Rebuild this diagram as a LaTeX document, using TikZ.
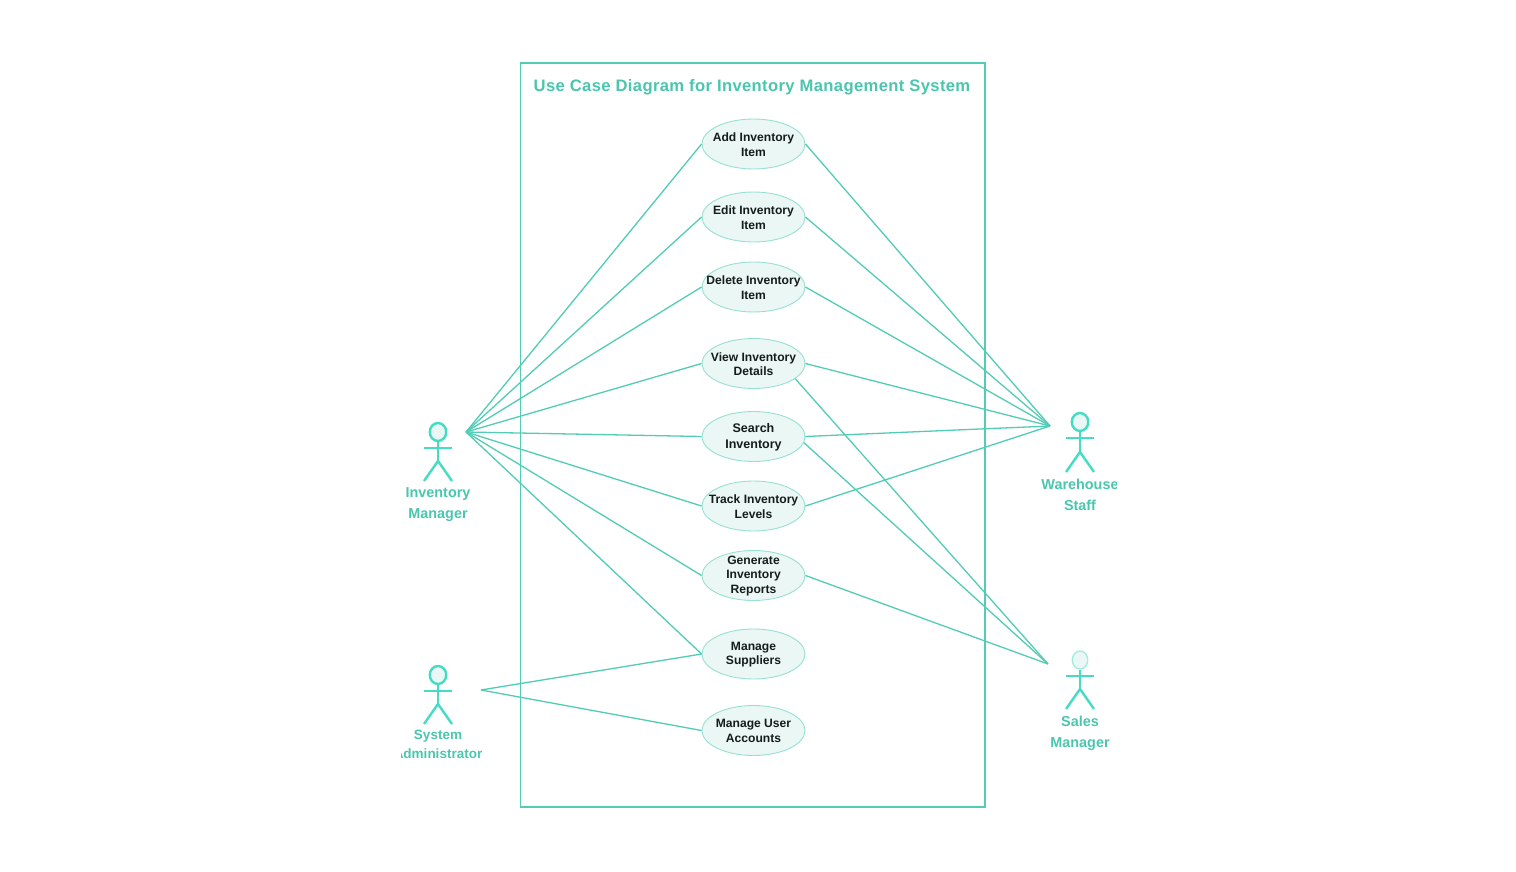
\documentclass[tikz,border=0pt]{standalone}
\usepackage{fontspec}
\setmainfont{Liberation Sans}
\usetikzlibrary{shapes.geometric}
\definecolor{teal1}{HTML}{52CCB4}
\definecolor{teal2}{HTML}{4BC6AE}
\definecolor{limb}{HTML}{45DCC4}
\definecolor{pale}{HTML}{EAF7F5}
\definecolor{ink}{HTML}{151C1C}
\tikzset{
  x=1pt,y=-1pt,
  usecase/.style={ellipse,draw=teal1!60,fill=pale,line width=0.9pt,minimum width=103pt,minimum height=50pt,inner sep=0pt},
  uclabel/.style={align=center,font=\bfseries\fontsize{12.1}{14.5}\selectfont,text=ink,inner sep=0pt},
  wire/.style={draw=teal1,line width=1.3pt},
  frame/.style={draw=teal1,line width=1.1pt},
  limbline/.style={draw=limb,line width=2.4pt},
  headshape/.style={ellipse,draw=limb,fill=pale,line width=2.4pt,inner sep=0pt,minimum width=16.5pt,minimum height=18pt},
  actorname/.style={align=center,font=\bfseries\fontsize{14.4}{21}\selectfont,text=teal2,inner sep=0pt},
  titletext/.style={font=\bfseries\fontsize{16.6}{20}\selectfont,text=teal2,inner sep=0pt},
}
\begin{document}
\begin{tikzpicture}
\useasboundingbox (0,0) rectangle (1516,872);
\fill[white] (0,0) rectangle (1516,872);
\node[frame,minimum width=464.5pt,minimum height=744pt,inner sep=0pt] (sys) at (752.75,435) {};
\node[titletext] (title) at (752,87) {\addfontfeature{LetterSpace=2.2}Use Case Diagram for Inventory Management System};

% actor contact points
\coordinate (im) at (466,432);
\coordinate (sa) at (481,690);
\coordinate (ws) at (1050,426);
\coordinate (sm) at (1048,664);

\node[usecase] (e1) at (753.5,144) {};
\node[usecase] (e2) at (753.5,217) {};
\node[usecase] (e3) at (753.5,287) {};
\node[usecase] (e4) at (753.5,363.5) {};
\node[usecase] (e5) at (753.5,436.5) {};
\node[usecase] (e6) at (753.5,506) {};
\node[usecase] (e7) at (753.5,575.5) {};
\node[usecase] (e8) at (753.5,654) {};
\node[usecase] (e9) at (753.5,730.5) {};

\node[uclabel] (t1) at (753.5,144.5) {Add Inventory\\Item};
\node[uclabel] (t2) at (753.5,217.5) {Edit Inventory\\Item};
\node[uclabel] (t3) at (753.5,287.5) {Delete Inventory\\Item};
\node[uclabel] (t4) at (753.5,364) {View Inventory\\Details};
\node[uclabel,font=\bfseries\fontsize{12.5}{16}\selectfont] (t5) at (753.5,437) {Search\\Inventory};
\node[uclabel] (t6) at (753.5,506.5) {Track Inventory\\Levels};
\node[uclabel] (t7) at (753.5,576) {Generate\\Inventory\\Reports};
\node[uclabel] (t8) at (753.5,654.5) {Manage\\Suppliers};
\node[uclabel] (t9) at (753.5,731) {Manage User\\Accounts};

\foreach \e in {e1,e2,e3,e4,e5,e6,e7,e8}{\draw[wire] (im) -- (\e.west);}
\foreach \e in {e1,e2,e3,e4,e5,e6}{\draw[wire] (\e.east) -- (ws);}
\draw[wire] (sa) -- (e8.west);
\draw[wire] (sa) -- (e9.west);
\draw[wire] (e4.-20) -- (sm);
\draw[wire] (e5.-7.4) -- (sm);
\draw[wire] (e7.east) -- (sm);

% Inventory Manager
\node[headshape] (h1) at (438,432) {};
\draw[limbline] (h1.south) -- (438,461) coordinate (hip1);
\draw[limbline] (424,448) -- (452,448);
\draw[limbline] (424,481) -- (hip1) -- (452,481);
\node[actorname] (n1) at (438,505) {Inventory\\Manager};

% System Administrator
\node[headshape] (h2) at (438,675) {};
\draw[limbline] (h2.south) -- (438,704) coordinate (hip2);
\draw[limbline] (424,691) -- (452,691);
\draw[limbline] (424,724) -- (hip2) -- (452,724);
\begin{scope}
\clip (401,725) rectangle (500,765);
\node[actorname,font=\bfseries\fontsize{13.5}{19}\selectfont] (n2) at (438,744.5) {System\\Administrator};
\end{scope}

% Warehouse Staff
\node[headshape] (h3) at (1080,422) {};
\draw[limbline] (h3.south) -- (1080,452) coordinate (hip3);
\draw[limbline] (1066,438) -- (1094,438);
\draw[limbline] (1066,472) -- (hip3) -- (1094,472);
\begin{scope}
\clip (1030,474) rectangle (1116,515);
\node[actorname] (n3) at (1080,495) {Warehouse\\Staff};
\end{scope}

% Sales Manager
\node[headshape,draw=limb!50,line width=1.3pt,minimum width=15.5pt,minimum height=18pt] (h4) at (1080,660) {};
\draw[limbline] (h4.south) -- (1080,689) coordinate (hip4);
\draw[limbline] (1066,676) -- (1094,676);
\draw[limbline] (1066,709) -- (hip4) -- (1094,709);
\node[actorname] (n4) at (1080,733) {Sales\\Manager};
\end{tikzpicture}
\end{document}
